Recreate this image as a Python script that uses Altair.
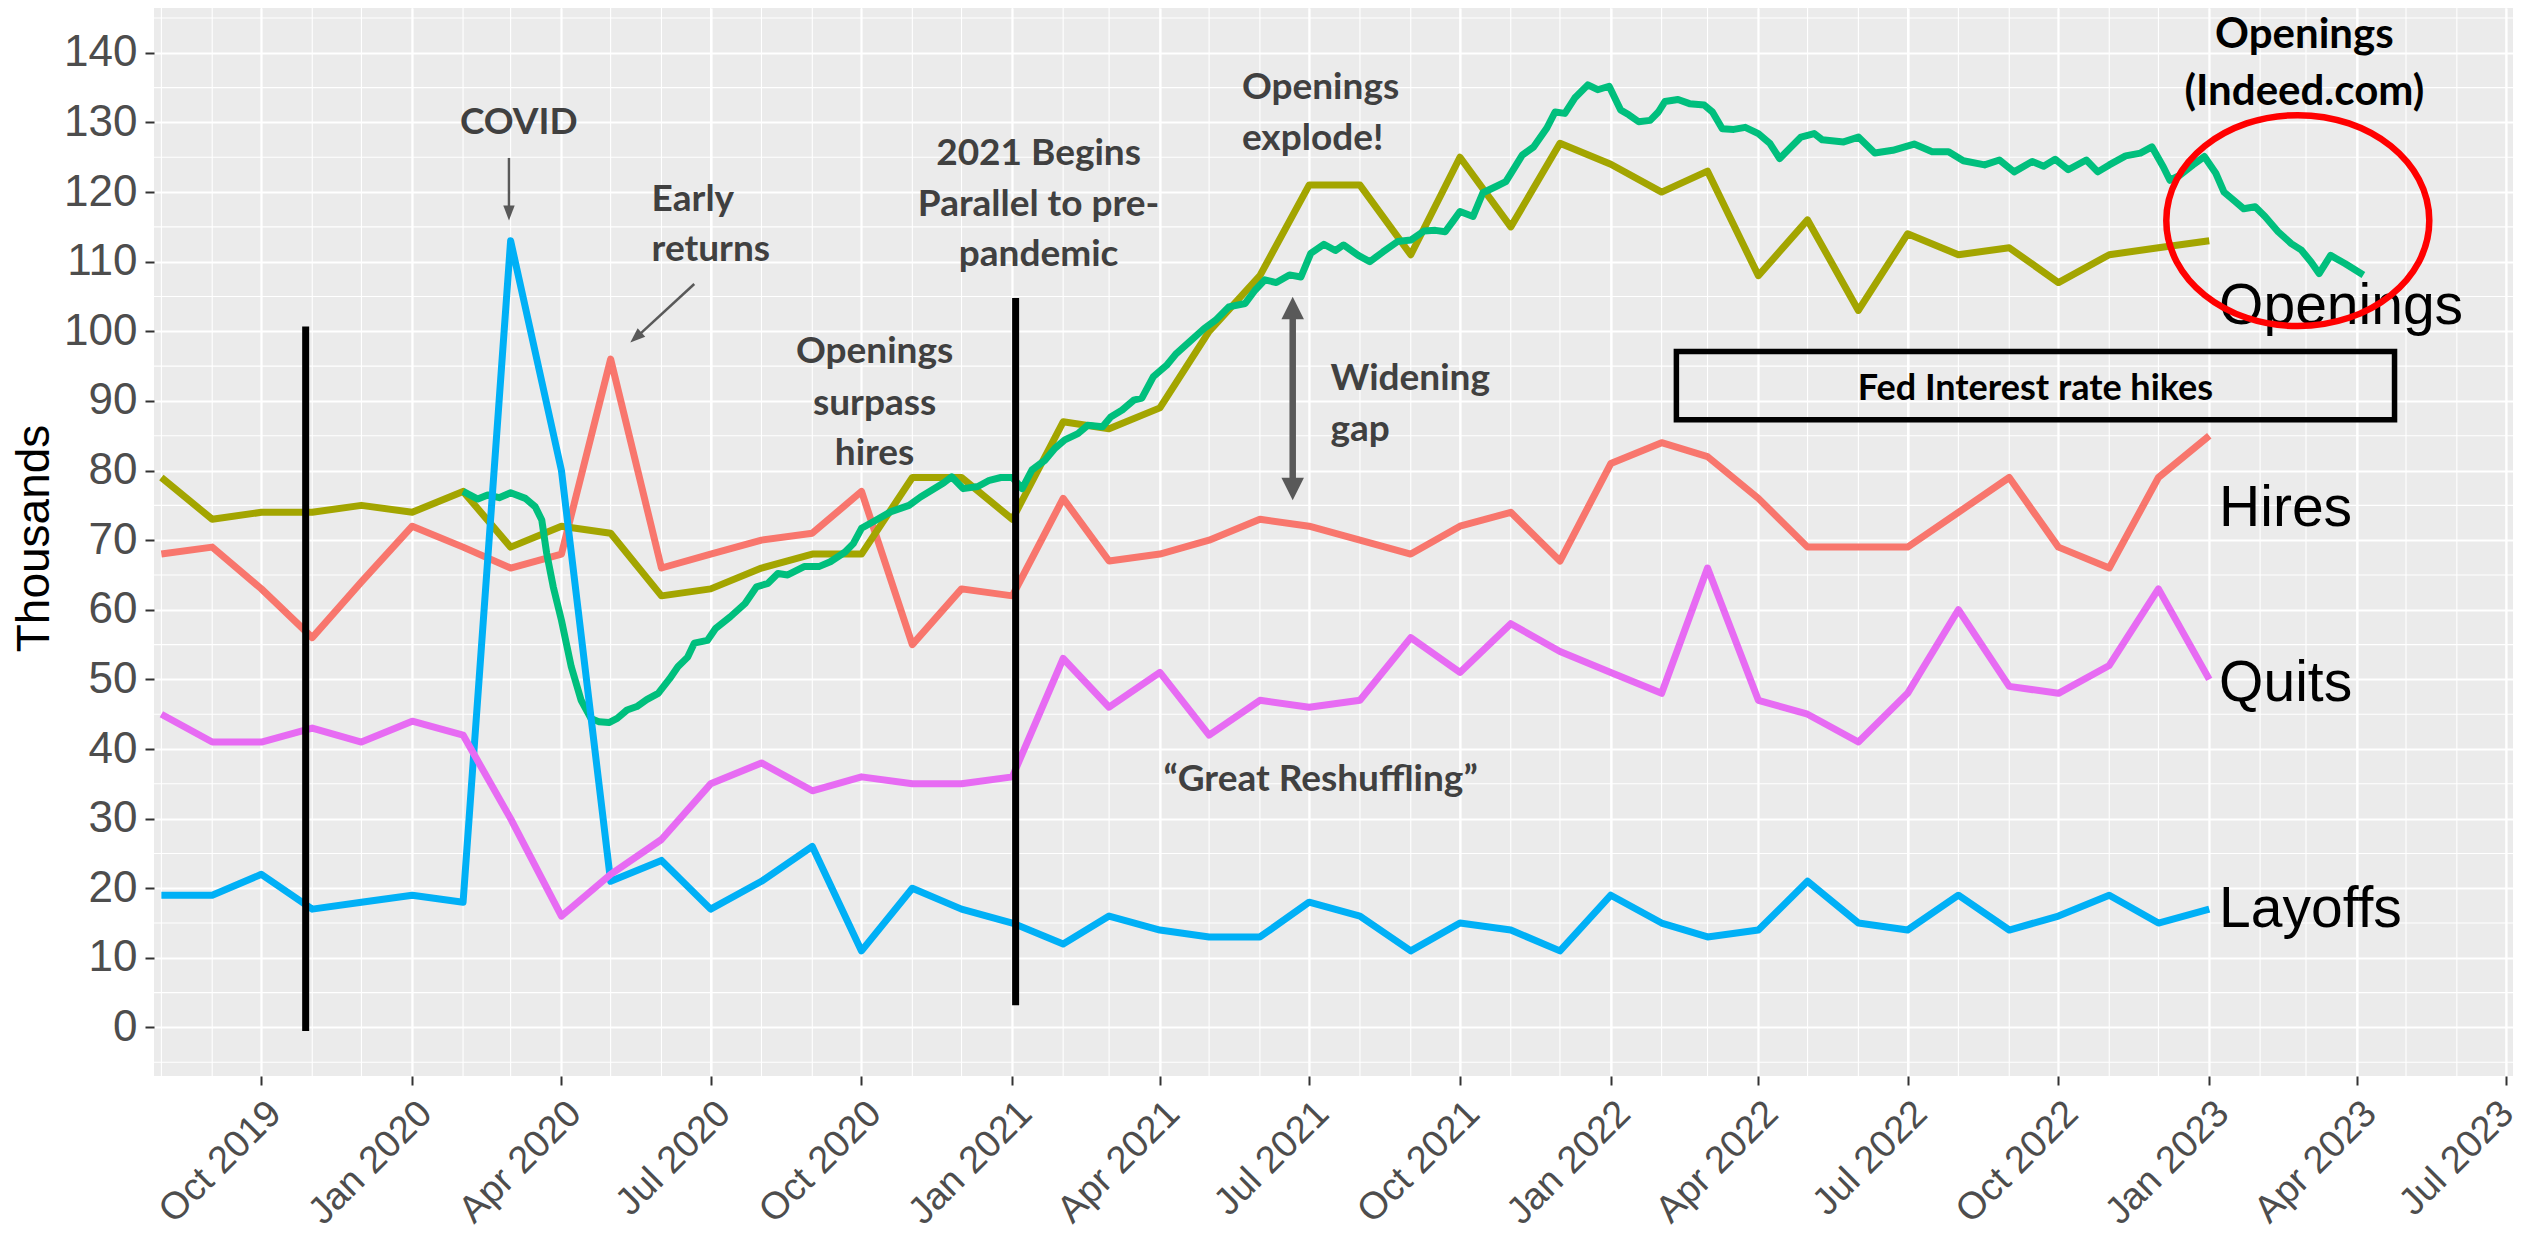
import altair as alt
import pandas as pd

# ---------------- data ----------------
jolts_months = pd.date_range("2019-08-01", "2023-01-01", freq="MS").strftime("%Y-%m-%d").tolist()

openings = [79, 73, 74, 74, 75,
            74, 77, 69, 72, 71, 62, 63, 66, 68, 68, 79, 79,
            73, 87, 86, 89, 100, 108, 121, 121, 111, 125, 115, 127,
            124, 120, 123, 108, 116, 103, 114, 111, 112, 107, 111, 112,
            113]
hires = [68, 69, 63, 56, 64,
         72, 69, 66, 68, 96, 66, 68, 70, 71, 77, 55, 63,
         62, 76, 67, 68, 70, 73, 72, 70, 68, 72, 74, 67,
         81, 84, 82, 76, 69, 69, 69, 74, 79, 69, 66, 79,
         85]
quits = [45, 41, 41, 43, 41,
         44, 42, 30, 16, 22, 27, 35, 38, 34, 36, 35, 35,
         36, 53, 46, 51, 42, 47, 46, 47, 56, 51, 58, 54,
         51, 48, 66, 47, 45, 41, 48, 60, 49, 48, 52, 63,
         50]
layoffs = [19, 19, 22, 17, 18,
           19, 18, 113, 80, 21, 24, 17, 21, 26, 11, 20, 17,
           15, 12, 16, 14, 13, 13, 18, 16, 11, 15, 14, 11,
           19, 15, 13, 14, 21, 15, 14, 19, 14, 16, 19, 15,
           17]

indeed_dates = [
    "2020-02-01", "2020-02-10", "2020-02-16", "2020-02-23", "2020-03-01", "2020-03-10",
    "2020-03-16", "2020-03-20", "2020-03-23", "2020-03-27", "2020-04-01", "2020-04-07",
    "2020-04-13", "2020-04-19", "2020-04-24", "2020-04-30", "2020-05-05", "2020-05-11",
    "2020-05-17", "2020-05-23", "2020-05-30", "2020-06-06", "2020-06-11", "2020-06-17",
    "2020-06-21", "2020-06-29", "2020-07-04", "2020-07-13", "2020-07-22", "2020-07-29",
    "2020-08-05", "2020-08-11", "2020-08-17", "2020-08-27", "2020-09-05", "2020-09-12",
    "2020-09-21", "2020-09-26", "2020-10-01", "2020-10-10", "2020-10-19", "2020-10-30",
    "2020-11-06", "2020-11-13", "2020-11-20", "2020-11-25", "2020-12-02", "2020-12-11",
    "2020-12-18", "2020-12-25", "2021-01-01", "2021-01-07", "2021-01-13", "2021-01-21",
    "2021-01-27", "2021-02-02", "2021-02-10", "2021-02-16", "2021-02-25", "2021-03-02",
    "2021-03-09", "2021-03-16", "2021-03-21", "2021-03-28", "2021-04-05", "2021-04-11",
    "2021-04-20", "2021-04-28", "2021-05-05", "2021-05-13", "2021-05-23", "2021-05-29",
    "2021-06-04", "2021-06-11", "2021-06-19", "2021-06-26", "2021-07-02", "2021-07-10",
    "2021-07-17", "2021-07-22", "2021-07-31", "2021-08-07", "2021-08-15", "2021-08-24",
    "2021-09-01", "2021-09-09", "2021-09-16", "2021-09-22", "2021-09-27", "2021-10-01",
    "2021-10-09", "2021-10-15", "2021-10-23", "2021-10-29", "2021-11-08", "2021-11-15",
    "2021-11-23", "2021-11-28", "2021-12-04", "2021-12-10", "2021-12-18", "2021-12-24",
    "2021-12-31", "2022-01-07", "2022-01-12", "2022-01-18", "2022-01-25", "2022-01-30",
    "2022-02-03", "2022-02-11", "2022-02-18", "2022-02-27", "2022-03-04", "2022-03-10",
    "2022-03-17", "2022-03-24", "2022-04-01", "2022-04-08", "2022-04-14", "2022-04-21",
    "2022-04-27", "2022-05-05", "2022-05-10", "2022-05-23", "2022-06-01", "2022-06-11",
    "2022-06-22", "2022-07-05", "2022-07-16", "2022-07-26", "2022-08-04", "2022-08-17",
    "2022-08-26", "2022-09-04", "2022-09-15", "2022-09-22", "2022-09-29", "2022-10-07",
    "2022-10-18", "2022-10-25", "2022-11-01", "2022-11-11", "2022-11-20", "2022-11-27",
    "2022-12-04", "2022-12-08", "2022-12-14", "2022-12-22", "2022-12-29", "2023-01-05",
    "2023-01-10", "2023-01-16", "2023-01-22", "2023-01-29", "2023-02-04", "2023-02-12",
    "2023-02-20", "2023-02-26", "2023-03-04", "2023-03-09", "2023-03-16", "2023-03-25",
    "2023-04-05",
]
indeed_values = [
    77.0, 75.9, 76.5, 76.1, 76.8, 76.0,
    74.8, 72.9, 68.1, 63.3, 58.5, 51.8,
    47.0, 44.4, 43.9, 43.8, 44.4, 45.6,
    46.1, 47.1, 48.0, 50.1, 51.8, 53.2,
    55.2, 55.6, 57.3, 59.0, 60.9, 63.3,
    63.8, 65.2, 65.0, 66.2, 66.2, 66.9,
    68.3, 69.5, 71.7, 72.9, 74.1, 75.0,
    76.2, 77.2, 78.2, 79.1, 77.4, 77.7,
    78.6, 79.0, 79.0, 77.4, 80.1, 81.5,
    83.2, 84.4, 85.3, 86.5, 86.3, 87.7,
    88.7, 90.1, 90.4, 93.5, 95.1, 96.8,
    98.7, 100.4, 101.6, 103.5, 104.0, 105.9,
    107.4, 107.0, 108.1, 107.8, 111.2, 112.5,
    111.6, 112.4, 110.9, 110.0, 111.4, 112.9,
    113.1, 114.4, 114.5, 114.3, 115.9, 117.2,
    116.5, 119.9, 120.8, 121.5, 125.3, 126.5,
    129.2, 131.5, 131.3, 133.5, 135.4, 134.7,
    135.2, 131.8, 131.1, 130.1, 130.3, 131.5,
    133.0, 133.3, 132.7, 132.5, 131.5, 129.1,
    129.0, 129.3, 128.4, 127.0, 124.8, 126.5,
    127.9, 128.4, 127.5, 127.2, 127.9, 125.6,
    126.0, 126.9, 125.8, 125.8, 124.5, 123.9,
    124.6, 122.9, 124.4, 123.7, 124.7, 123.2,
    124.6, 122.9, 123.9, 125.2, 125.6, 126.5,
    123.6, 121.7, 122.4, 123.9, 125.1, 122.7,
    120.0, 118.8, 117.6, 117.9, 116.5, 114.3,
    112.6, 111.7, 110.0, 108.3, 110.9, 109.7,
    108.1,
]

quarter_ticks = [(2019, 10), (2020, 1), (2020, 4), (2020, 7), (2020, 10), (2021, 1), (2021, 4),
                 (2021, 7), (2021, 10), (2022, 1), (2022, 4), (2022, 7), (2022, 10), (2023, 1),
                 (2023, 4), (2023, 7)]
minor_months = pd.date_range("2019-08-01", "2023-07-01", freq="MS").strftime("%Y-%m-%d").tolist()
y_major = list(range(0, 141, 10))
y_minor = list(range(-5, 150, 10))

series_colors = {"Hires": "#F8766D", "Openings": "#A3A500", "Indeed": "#00BF7D",
                 "Layoffs": "#00B0F6", "Quits": "#E76BF3"}

# annotations (grey, bold)
grey_center_text = ["COVID", "Openings", "surpass", "hires", "2021 Begins", "Parallel to pre-",
                    "pandemic", "\u201cGreat Reshuffling\u201d"]
grey_center_date = ["2020-03-06", "2020-10-09", "2020-10-09", "2020-10-09", "2021-01-17",
                    "2021-01-17", "2021-01-17", "2021-07-08"]
grey_center_y = [128.3, 95.4, 88.0, 80.8, 123.9, 116.6, 109.4, 34.0]

grey_left_text = ["Early", "returns", "Openings", "explode!", "Widening", "gap"]
grey_left_date = ["2020-05-26", "2020-05-26", "2021-05-21", "2021-05-21", "2021-07-14", "2021-07-14"]
grey_left_y = [117.3, 110.1, 133.4, 126.0, 91.5, 84.3]

indeed_label_text = ["Openings", "(Indeed.com)"]
indeed_label_date = ["2023-02-28", "2023-02-28"]
indeed_label_y = [140.7, 132.5]

fed_text = ["Fed Interest rate hikes"]
fed_date = ["2022-09-17"]
fed_y = [90.2]
fed_box = {"date": ["2022-02-10"], "date2": ["2023-04-24"], "value": [97.1], "value2": [87.3]}

series_label_text = ["Openings", "Hires", "Quits", "Layoffs"]
series_label_date = ["2023-01-07"] * 4
series_label_y = [101.0, 72.0, 46.9, 14.5]

vline_dates = ["2019-10-28", "2021-01-03"]
vline_top = [100.7, 104.8]
vline_bottom = [-0.5, 3.2]

thin_arrow = {"date": ["2020-02-29", "2020-06-21"], "date2": ["2020-02-29", "2020-05-17"],
              "value": [124.9, 106.8], "value2": [117.5, 99.2]}
thin_heads = {"date": ["2020-02-29", "2020-05-13"], "value": [115.9, 98.4], "ang": [180, 228]}

gap_shaft = {"date": ["2021-06-21"], "value": [101.9], "value2": [78.8]}
gap_heads = {"date": ["2021-06-21", "2021-06-21"], "value": [104.96, 75.75], "ang": [0, 180]}

circle = {"date": ["2023-02-24"], "value": [115.9]}

# ---------------- scales / axes ----------------
xscale = alt.Scale(type="utc", domain=[
    alt.DateTime(year=2019, month=7, date=27, hours=12, utc=True),
    alt.DateTime(year=2023, month=7, date=5, hours=6, utc=True)])
xaxis = alt.Axis(
    values=[alt.DateTime(year=y, month=m, date=1, utc=True) for (y, m) in quarter_ticks],
    labelExpr="utcFormat(datum.value, '%b %Y')", labelAngle=315, labelAlign="right",
    labelBaseline="top",
    labelOffset={"condition": {"test": "utcyear(datum.value) == 2023 && utcmonth(datum.value) == 6",
                               "value": -12}, "value": 0},
    labelFontSize=38, labelColor="#4D4D4D", labelFont="Liberation Sans", labelPadding=9,
    tickSize=9, tickColor="#333333", tickWidth=2, domain=False, grid=True, gridColor="white",
    gridWidth=2.2, title=None, labelOverlap=False, labelFlush=False)
yscale = alt.Scale(domain=[-6.97, 146.44], nice=False, zero=False)
yaxis = alt.Axis(
    values=y_major, labelFontSize=44, labelColor="#4D4D4D", labelFont="Liberation Sans",
    labelPadding=8, tickSize=9, tickColor="#333333", tickWidth=2, domain=False, grid=True,
    gridColor="white", gridWidth=2.2, title="Thousands", titleFont="Liberation Sans",
    titleFontSize=46, titleFontWeight="normal", titleColor="black", titleAngle=270,
    titleAlign="center", titleBaseline="alphabetic", titleX=-106, titleY=530)


def X(f="date"):
    return alt.X(f"{f}:T", scale=xscale, axis=xaxis)


def Y(f="value"):
    return alt.Y(f"{f}:Q", scale=yscale, axis=yaxis)


layers = []

# minor grid
layers.append(alt.Chart(pd.DataFrame({"date": minor_months})).mark_rule(
    color="white", strokeWidth=1.1).encode(x=X()))
layers.append(alt.Chart(pd.DataFrame({"value": y_minor})).mark_rule(
    color="white", strokeWidth=1.1).encode(y=Y()))


def line_layer(dates, values, color):
    df = pd.DataFrame({"date": dates, "value": values})
    return alt.Chart(df).mark_line(color=color, strokeWidth=7, strokeJoin="round",
                                   strokeCap="butt").encode(x=X(), y=Y())


layers.append(line_layer(jolts_months, hires, series_colors["Hires"]))
layers.append(line_layer(jolts_months, openings, series_colors["Openings"]))
layers.append(line_layer(indeed_dates, indeed_values, series_colors["Indeed"]))
layers.append(line_layer(jolts_months, layoffs, series_colors["Layoffs"]))
layers.append(line_layer(jolts_months, quits, series_colors["Quits"]))

# black vertical lines
layers.append(alt.Chart(pd.DataFrame({"date": vline_dates, "value": vline_top, "value2": vline_bottom}))
              .mark_rule(color="black", strokeWidth=7)
              .encode(x=X(), y=Y(), y2=alt.Y2("value2:Q")))

# Fed box
layers.append(alt.Chart(pd.DataFrame(fed_box)).mark_rect(fillOpacity=0, stroke="black", strokeWidth=5.5)
              .encode(x=X(), x2=alt.X2("date2:T"), y=Y(), y2=alt.Y2("value2:Q")))


def text_layer(texts, dates, vals, **mark):
    df = pd.DataFrame({"date": dates, "value": vals, "label": texts})
    return alt.Chart(df).mark_text(**mark).encode(x=X(), y=Y(), text="label:N")


layers.append(text_layer(grey_center_text, grey_center_date, grey_center_y, align="center",
                         baseline="alphabetic", font="Lato", fontWeight="bold", fontSize=37,
                         color="#404040"))
layers.append(text_layer(grey_left_text, grey_left_date, grey_left_y, align="left",
                         baseline="alphabetic", font="Lato", fontWeight="bold", fontSize=37,
                         color="#404040"))
layers.append(text_layer(indeed_label_text, indeed_label_date, indeed_label_y, align="center",
                         baseline="alphabetic", font="Lato", fontWeight="bold", fontSize=42,
                         color="black"))
layers.append(text_layer(fed_text, fed_date, fed_y, align="center", baseline="alphabetic",
                         font="Lato", fontWeight="bold", fontSize=36, color="black"))
layers.append(text_layer(series_label_text, series_label_date, series_label_y, align="left",
                         baseline="alphabetic", font="Liberation Sans", fontSize=57, color="black"))

# arrows
layers.append(alt.Chart(pd.DataFrame(thin_arrow)).mark_rule(color="#595959", strokeWidth=2.5)
              .encode(x=X(), x2=alt.X2("date2:T"), y=Y(), y2=alt.Y2("value2:Q")))
head_path = "M 0 0 L -0.38 1 L 0.38 1 Z"
layers.append(alt.Chart(pd.DataFrame(thin_heads)).mark_point(
    shape=head_path, filled=True, color="#595959", opacity=1, size=900, strokeWidth=0)
    .encode(x=X(), y=Y(), angle=alt.Angle("ang:Q", scale=None)))
layers.append(alt.Chart(pd.DataFrame(gap_shaft)).mark_rule(color="#595959", strokeWidth=6.5)
              .encode(x=X(), y=Y(), y2=alt.Y2("value2:Q")))
big_head = "M 0 0 L -0.5 1 L 0.5 1 Z"
layers.append(alt.Chart(pd.DataFrame(gap_heads)).mark_point(
    shape=big_head, filled=True, color="#595959", opacity=1, size=2025, strokeWidth=0)
    .encode(x=X(), y=Y(), angle=alt.Angle("ang:Q", scale=None)))

# red ellipse
ellipse_path = ("M -1 0 C -1 -0.4429 -0.5523 -0.802 0 -0.802 "
                "C 0.5523 -0.802 1 -0.4429 1 0 "
                "C 1 0.4429 0.5523 0.802 0 0.802 "
                "C -0.5523 0.802 -1 0.4429 -1 0 Z")
layers.append(alt.Chart(pd.DataFrame(circle)).mark_point(
    shape=ellipse_path, filled=False, stroke="#FF0000", strokeWidth=6.5, opacity=1, size=69169)
    .encode(x=X(), y=Y()))

chart = alt.layer(*layers).properties(
    width=2359, height=1068,
    padding={"left": 146, "top": 0, "right": 11, "bottom": 158},
    autosize=alt.AutoSizeParams(type="none"),
    background="white",
).configure_view(fill="#EBEBEB", strokeWidth=0)

chart.save("out.html", embed_options={"renderer": "svg", "actions": False})
